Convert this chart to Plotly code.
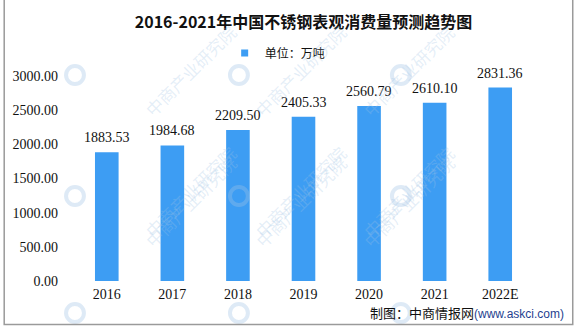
import plotly.graph_objects as go

# Apparent consumption of stainless steel in China (10k tonnes)
years = ["2016", "2017", "2018", "2019", "2020", "2021", "2022E"]
consumption = [1883.53, 1984.68, 2209.50, 2405.33, 2560.79, 2610.10, 2831.36]
y_ticks = [0, 500, 1000, 1500, 2000, 2500, 3000]
y_tick_text = ["0.00", "500.00", "1000.00", "1500.00", "2000.00", "2500.00", "3000.00"]

title_text = "2016-2021年中国不锈钢表观消费量预测趋势图"
series_name = "单位：万吨"
watermark = "中商产业研究院"

W, H = 577, 326
L, R, T, B = 71, 44, 76, 45
PW, PH = W - L - R, H - T - B

BAR = "#3d9df3"
NUM_FONT = "Liberation Serif"
CJK_FONT = "Noto Sans CJK SC"


def px(x):
    return (x - L) / PW


def py(y):
    return (H - B - y) / PH


fig = go.Figure()
fig.add_trace(go.Bar(
    x=years, y=consumption, name=series_name,
    marker=dict(color=BAR, line=dict(width=0)),
    showlegend=False, legendgroup="s",
))
# legend entry with a small square swatch
fig.add_trace(go.Scatter(
    x=[None], y=[None], mode="markers", name=series_name, legendgroup="s",
    marker=dict(symbol="square", size=7, color=BAR),
    showlegend=True, hoverinfo="skip",
))

annotations = []
# value labels above each bar (category index positions on the x axis)
for i, v in enumerate(consumption):
    annotations.append(dict(
        x=i, y=v, xref="x", yref="y", text=f"{v:.2f}", showarrow=False,
        yanchor="bottom", yshift=5,
        font=dict(family=NUM_FONT, size=14, color="#111111"),
    ))

# faint diagonal brand watermark
shapes = []
for cx in [72, 237, 400]:
    for cy in [75, 196, 313]:
        annotations.append(dict(
            x=px(cx + 62), y=py(cy - 58), xref="paper", yref="paper",
            text=watermark, showarrow=False, textangle=-45,
            font=dict(family=CJK_FONT, size=17, color="rgba(160,195,228,0.28)"),
        ))
        shapes.append(dict(
            type="circle", xref="paper", yref="paper",
            x0=px(cx - 9), x1=px(cx + 9), y0=py(cy + 9), y1=py(cy - 9),
            line=dict(color="rgba(160,195,228,0.35)", width=4),
            layer="above",
        ))

# source note
annotations.append(dict(
    x=px(566), y=py(312), xref="paper", yref="paper",
    xanchor="right", yanchor="middle",
    text="制图：中商情报网<span style='color:#1f3f8f;font-family:Liberation Sans;font-size:12px'>(www.askci.com)</span>",
    showarrow=False, font=dict(family=CJK_FONT, size=13, color="#111111"),
))

# outer frame
shapes.append(dict(
    type="rect", xref="paper", yref="paper",
    x0=px(0.75), x1=px(573), y0=py(-2), y1=py(324.5),
    line=dict(color="#9a9a9a", width=1.5), layer="above",
))

fig.update_layout(
    width=W, height=H,
    margin=dict(l=L, r=R, t=T, b=B),
    paper_bgcolor="white", plot_bgcolor="white",
    title=dict(
        text=f"<b>{title_text}</b>", x=0.5, xref="paper", xanchor="center",
        y=1 - 22 / H, yanchor="middle",
        font=dict(family=CJK_FONT, size=16, color="#111111"),
    ),
    legend=dict(
        orientation="h", x=px(276), xanchor="center", y=py(53), yanchor="middle",
        font=dict(family=CJK_FONT, size=12, color="#111111"),
        itemwidth=30, bgcolor="rgba(0,0,0,0)",
    ),
    bargap=0.64,
    xaxis=dict(
        type="category", range=[-0.5, len(years) - 0.5],
        showline=False, showgrid=False, ticks="",
        ticklabelstandoff=3,
        tickfont=dict(family=NUM_FONT, size=14, color="#111111"),
    ),
    yaxis=dict(
        range=[0, 3000], tickvals=y_ticks, ticktext=y_tick_text,
        showgrid=False, showline=False, zeroline=False, ticks="",
        ticklabelstandoff=15,
        tickfont=dict(family=NUM_FONT, size=14, color="#111111"),
    ),
    annotations=annotations, shapes=shapes,
)

fig.write_html("out.html")
